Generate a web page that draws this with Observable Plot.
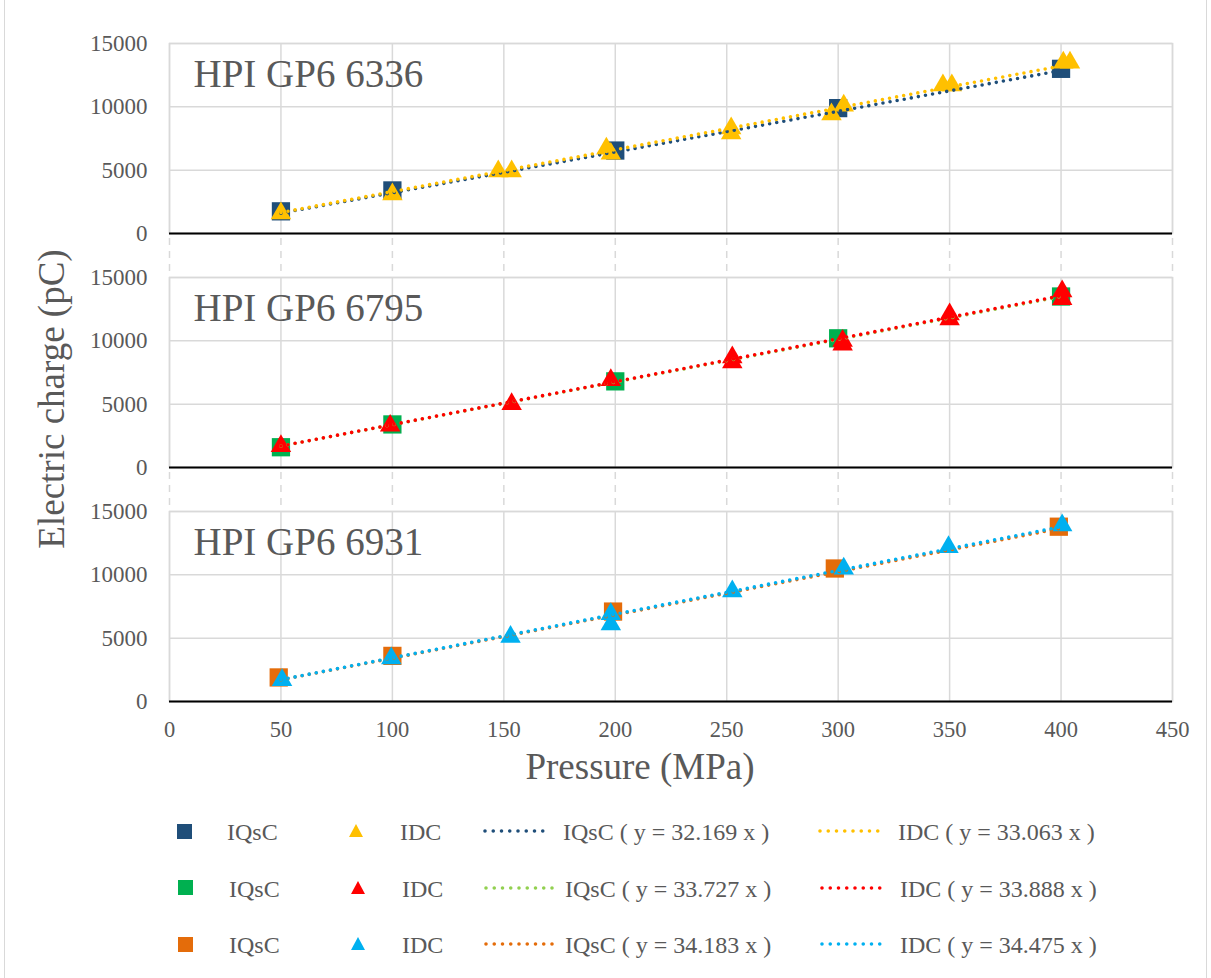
<!DOCTYPE html>
<html>
<head>
<meta charset="utf-8">
<script src="https://cdn.jsdelivr.net/npm/d3@7"></script>
<script src="https://cdn.jsdelivr.net/npm/@observablehq/plot@0.6"></script>
<style>
  body { margin: 0; background: #fff; }
  #wrap { position: relative; width: 1211px; height: 978px; overflow: hidden;
          font-family: "Liberation Serif", "DejaVu Serif", serif; color: #595959; background: #fff; }
  #wrap * { font-family: "Liberation Serif", "DejaVu Serif", serif !important; }
  #border { position: absolute; left: 4px; top: -2px; width: 1203px; height: 990px;
            border-left: 1.5px solid #d9d9d9; border-right: 1.5px solid #d9d9d9; box-sizing: border-box; }
  #chart { position: absolute; left: 0; top: 0; }
  .ttl { position: absolute; white-space: nowrap; color: #595959; }
  .leg { position: absolute; white-space: nowrap; font-size: 24px; line-height: 24px; color: #595959; }
  .ico { position: absolute; overflow: visible; }
</style>
</head>
<body>
<div id="wrap">
  <div id="border"></div>
  <div id="chart"></div>
</div>
<script>
// ---------- data ----------
const panels = ["HPI GP6 6336", "HPI GP6 6795", "HPI GP6 6931"];
const xTicks = [0, 50, 100, 150, 200, 250, 300, 350, 400, 450];
const yTicks = [0, 5000, 10000, 15000];

const iqscColors = ["#1f4e79", "#00b050", "#e46c0a"];
const idcColors = ["#ffc000", "#ff0000", "#00b0f0"];
const iqscLineColors = ["#1f4e79", "#92d050", "#e46c0a"];
const idcLineColors = ["#ffc000", "#ff0000", "#00b0f0"];
const iqscSlopes = [32.169, 33.727, 34.183];
const idcSlopes = [33.063, 33.888, 34.475];
const trendStart = 50;

// HPI GP6 6336
const iqscP6336 = [50, 100, 200, 300, 400];
const iqscQ6336 = [1750, 3400, 6550, 9900, 13000];
const idcP6336 = [50, 100, 147.5, 153.5, 196, 198, 252, 252, 297, 302.5, 347, 351, 401, 404];
const idcQ6336 = [1600, 3100, 4900, 4900, 6700, 6300, 8300, 7900, 9400, 10100, 11700, 11700, 13500, 13500];

// HPI GP6 6795
const iqscP6795 = [50, 100, 200, 300, 400];
const iqscQ6795 = [1600, 3400, 6800, 10200, 13500];
const idcP6795 = [50, 99, 153.5, 198, 252.5, 252.5, 302, 302, 350, 350, 400.5, 400.5];
const idcQ6795 = [1700, 3300, 5000, 6900, 8700, 8300, 10000, 9700, 12100, 11700, 13900, 13300];

// HPI GP6 6931
const iqscP6931 = [49, 100, 199, 298.5, 399];
const iqscQ6931 = [1900, 3600, 7100, 10500, 13800];
const idcP6931 = [50.5, 99.5, 153, 198, 198, 252.5, 302.5, 349.5, 400.5];
const idcQ6931 = [1700, 3400, 5100, 6900, 6100, 8700, 10500, 12200, 13900];

const iqscP = [iqscP6336, iqscP6795, iqscP6931];
const iqscQ = [iqscQ6336, iqscQ6795, iqscQ6931];
const idcP = [idcP6336, idcP6795, idcP6931];
const idcQ = [idcQ6336, idcQ6795, idcQ6931];

// ---------- tables ----------
const iqscRows = [], idcRows = [], lineRows = [], gapRows = [];
panels.forEach((panel, i) => {
  iqscP[i].forEach((p, j) => iqscRows.push({panel, p, q: iqscQ[i][j], color: iqscColors[i]}));
  idcP[i].forEach((p, j) => idcRows.push({panel, p, q: idcQ[i][j], color: idcColors[i]}));
  const iqx = [trendStart, d3.max(iqscP[i])];
  const idx = [trendStart, d3.max(idcP[i])];
  iqx.forEach(p => lineRows.push({panel, key: panel + "-IQsC", p, q: iqscSlopes[i] * p, color: iqscLineColors[i]}));
  idx.forEach(p => lineRows.push({panel, key: panel + "-IDC", p, q: idcSlopes[i] * p, color: idcLineColors[i]}));
  if (i < panels.length - 1) xTicks.forEach(x => gapRows.push({panel, x}));
});

// ---------- chart ----------
const serif = "'Liberation Serif', 'DejaVu Serif', serif";
const chart = Plot.plot({
  width: 1211,
  height: 745,
  marginTop: 42,
  marginBottom: 44,
  marginLeft: 169,
  marginRight: 39,
  style: {fontFamily: serif, fontSize: "22px", color: "#595959", background: "transparent"},
  x: {domain: [0, 450]},
  y: {domain: [0, 15000]},
  fy: {domain: panels, paddingInner: 0.19, paddingOuter: 0, axis: null},
  marks: [
    Plot.ruleX(gapRows, {x: "x", y1: 0, y2: -3480, fy: "panel", stroke: "#d9d9d9", strokeWidth: 1.5, strokeDasharray: "7,6", strokeDashoffset: 8}),
    Plot.gridX(xTicks, {stroke: "#d9d9d9", strokeOpacity: 1, strokeWidth: 1.5}),
    Plot.gridY(yTicks, {stroke: "#d9d9d9", strokeOpacity: 1, strokeWidth: 1.5}),
    Plot.frame({stroke: "#d9d9d9", strokeWidth: 1.5}),
    Plot.ruleY([0], {stroke: "#000", strokeWidth: 2}),
    Plot.axisY(yTicks, {tickSize: 0, tickPadding: 22, tickFormat: d3.format("d"), fontSize: 23, fontFamily: serif, label: null, fill: "#595959"}),
    Plot.axisX(xTicks, {tickSize: 0, tickPadding: 20, tickFormat: d3.format("d"), fontSize: 22.5, fontFamily: serif, label: null, fill: "#595959"}),
    Plot.dot(iqscRows, {x: "p", y: "q", fy: "panel", symbol: "square", r: 10.3, fill: "color", stroke: null}),
    Plot.dot(idcRows, {x: "p", y: "q", fy: "panel", symbol: "triangle", r: 7.6, fill: "color", stroke: null}),
    Plot.line(lineRows, {x: "p", y: "q", z: "key", fy: "panel", stroke: "color", strokeWidth: 3.6, strokeDasharray: "0 7.2", strokeLinecap: "round"}),
    Plot.text(panels, {fy: d => d, text: d => d, frameAnchor: "top-left", lineAnchor: "top", textAnchor: "start", dx: 24, dy: 16, fontSize: 39, fontFamily: serif, fill: "#595959"})
  ]
});
document.getElementById("chart").appendChild(chart);

// ---------- titles ----------
const wrap = document.getElementById("wrap");
const xt = document.createElement("div");
xt.className = "ttl";
xt.textContent = "Pressure (MPa)";
Object.assign(xt.style, {left: "440px", width: "400px", textAlign: "center", top: "748px", fontSize: "37px", lineHeight: "37px"});
wrap.appendChild(xt);

const yt = document.createElement("div");
yt.className = "ttl";
yt.textContent = "Electric charge (pC)";
Object.assign(yt.style, {left: (52 - 200) + "px", width: "400px", textAlign: "center", top: (399 - 20) + "px", fontSize: "37px", lineHeight: "40px", transform: "rotate(-90deg)", transformOrigin: "50% 50%"});
wrap.appendChild(yt);

// ---------- legend ----------
const legRowsY = [831, 887.5, 944];
const legTextTop = [820, 877, 933];
const legSquareX = [184.5, 185, 185];
const legIQsCX = [227, 229, 229];
const legTriX = [356, 358, 358];
const legIDCX = [400, 402, 402];
const legLine1X = [[483, 553], [484, 555], [484, 555]];
const legText3X = [563, 565, 565];
const legLine2X = [[818, 888], [820, 890], [820, 890]];
const legText4X = [898, 900, 900];

function addText(txt, left, top) {
  const d = document.createElement("div");
  d.className = "leg";
  d.textContent = txt;
  d.style.left = left + "px";
  d.style.top = top + "px";
  wrap.appendChild(d);
}
function addSvg(left, top, w, h, draw) {
  const s = d3.select(wrap).append("svg").attr("class", "ico")
    .attr("width", w).attr("height", h)
    .style("left", left + "px").style("top", top + "px");
  draw(s);
}
panels.forEach((panel, i) => {
  const cy = legRowsY[i];
  addSvg(legSquareX[i] - 7.5, cy - 7.5, 15, 15, s => s.append("rect").attr("width", 15).attr("height", 15).attr("fill", iqscColors[i]));
  addText("IQsC", legIQsCX[i], legTextTop[i]);
  addSvg(legTriX[i] - 7, cy - 7, 14, 13, s => s.append("polygon").attr("points", "7,0 14,13 0,13").attr("fill", idcColors[i]));
  addText("IDC", legIDCX[i], legTextTop[i]);
  const [a1, b1] = legLine1X[i];
  addSvg(a1, cy - 3, b1 - a1, 6, s => s.append("line").attr("x1", 2).attr("x2", b1 - a1 - 2).attr("y1", 3).attr("y2", 3)
    .attr("stroke", iqscLineColors[i]).attr("stroke-width", 3.6).attr("stroke-linecap", "round").attr("stroke-dasharray", "0 8.25"));
  addText("IQsC ( y = " + iqscSlopes[i].toFixed(3) + " x )", legText3X[i], legTextTop[i]);
  const [a2, b2] = legLine2X[i];
  addSvg(a2, cy - 3, b2 - a2, 6, s => s.append("line").attr("x1", 2).attr("x2", b2 - a2 - 2).attr("y1", 3).attr("y2", 3)
    .attr("stroke", idcLineColors[i]).attr("stroke-width", 3.6).attr("stroke-linecap", "round").attr("stroke-dasharray", "0 8.25"));
  addText("IDC ( y = " + idcSlopes[i].toFixed(3) + " x )", legText4X[i], legTextTop[i]);
});
</script>
</body>
</html>
